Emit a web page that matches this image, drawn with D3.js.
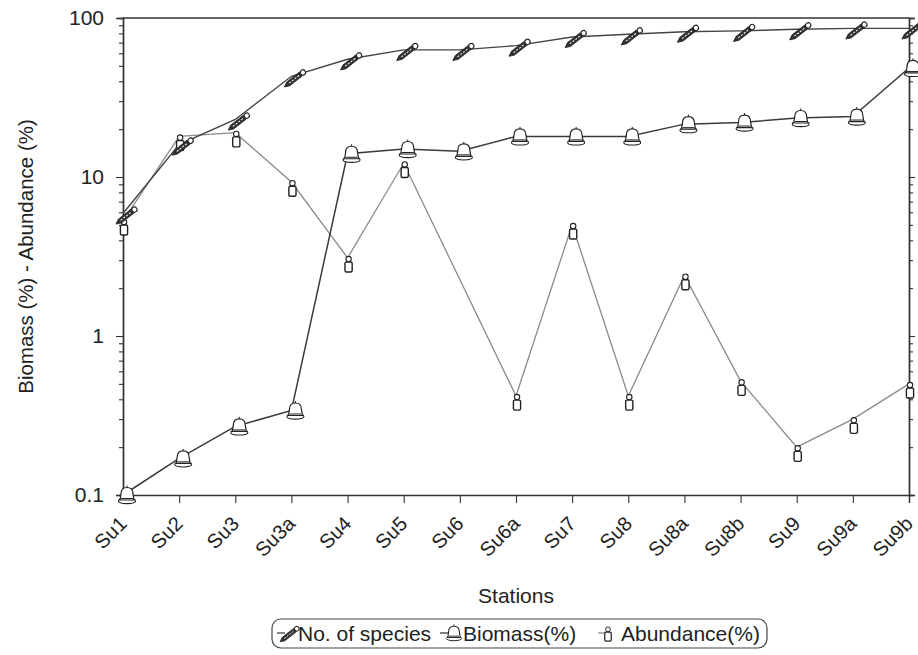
<!DOCTYPE html>
<html>
<head>
<meta charset="utf-8">
<script src="https://cdn.jsdelivr.net/npm/d3@7"></script>
<style>
    body { margin: 0; background: #fff; }
    text { font-family: "Liberation Sans", Arial, sans-serif; fill: #222; }
</style>
</head>
<body>
<div id="chart"></div>
<script>
const stations = ['Su1', 'Su2', 'Su3', 'Su3a', 'Su4', 'Su5', 'Su6', 'Su6a', 'Su7', 'Su8', 'Su8a', 'Su8b', 'Su9', 'Su9a', 'Su9b'];
const speciesPct = [5.9, 16, 23, 43, 55, 63, 63, 67, 76, 79, 82, 83, 85, 86, 86];
const biomassPct = [0.1, 0.17, 0.27, 0.34, 14, 15, 14.5, 18, 18, 18, 21.5, 22, 23.5, 24, 48.5];
const abundancePct = [5.3, 18, 19, 9.3, 3.1, 12.2, null, 0.42, 5.0, 0.42, 2.4, 0.52, 0.2, 0.3, 0.5];
const yTicks = [0.1, 1, 10, 100];

const width = 918, height = 655;
const margin = { top: 18, right: 9, bottom: 160, left: 123 };

const svg = d3.select('#chart').append('svg')
    .attr('width', width)
    .attr('height', height);

const x = d3.scalePoint()
    .domain(stations)
    .range([margin.left, width - margin.right]);

const y = d3.scaleLog()
    .domain([0.1, 100])
    .range([height - margin.bottom, margin.top]);

// minor ticks 2..9 for each decade
const minorTicks = [];
[0.1, 1, 10].forEach(d => { for (let k = 2; k <= 9; k++) minorTicks.push(d * k); });

const axisColor = '#333';

// top border
svg.append('line')
    .attr('x1', x.range()[0]).attr('x2', x.range()[1])
    .attr('y1', y(100)).attr('y2', y(100))
    .attr('stroke', axisColor).attr('stroke-width', 1.4);

// left axis: minor + major
svg.append('g')
    .attr('transform', `translate(${margin.left},0)`)
    .call(d3.axisLeft(y).tickValues(minorTicks).tickSize(4).tickFormat(''));
const leftMajor = svg.append('g')
    .attr('transform', `translate(${margin.left},0)`)
    .call(d3.axisLeft(y).tickValues(yTicks).tickSize(7).tickPadding(12)
        .tickFormat(d => d3.format('~g')(d)));
leftMajor.selectAll('text').style('font-size', '21px').attr('fill', '#222');

// right axis
svg.append('g')
    .attr('transform', `translate(${x.range()[1]},0)`)
    .call(d3.axisRight(y).tickValues(minorTicks).tickSize(4).tickFormat(''));
svg.append('g')
    .attr('transform', `translate(${x.range()[1]},0)`)
    .call(d3.axisRight(y).tickValues(yTicks).tickSize(6).tickFormat(''));

// bottom axis
svg.append('g')
    .attr('transform', `translate(0,${y(0.1)})`)
    .call(d3.axisBottom(x).tickSize(8).tickFormat(''));

svg.selectAll('.domain').attr('stroke', axisColor).attr('stroke-width', 1.4);
svg.selectAll('.tick line').attr('stroke', axisColor).attr('stroke-width', 1.1);

// rotated station labels
svg.selectAll('text.xlabel')
    .data(stations)
    .enter()
    .append('text')
    .attr('class', 'xlabel')
    .attr('transform', d => `translate(${x(d) + 5},${y(0.1) + 30}) rotate(-45)`)
    .style('text-anchor', 'end')
    .style('font-size', '20px')
    .text(d => d);

// axis titles
svg.append('text')
    .attr('transform', `translate(33,${(y(100) + y(0.1)) / 2}) rotate(-90)`)
    .style('text-anchor', 'middle')
    .style('font-size', '20.5px')
    .text('Biomass (%) - Abundance (%)');

svg.append('text')
    .attr('x', (x.range()[0] + x.range()[1]) / 2)
    .attr('y', 603)
    .style('text-anchor', 'middle')
    .style('font-size', '21px')
    .text('Stations');

// series data
const speciesData = stations.map((s, i) => ({ s, v: speciesPct[i] }));
const biomassData = stations.map((s, i) => ({ s, v: biomassPct[i] }));
const abundanceData = stations.map((s, i) => ({ s, v: abundancePct[i] })).filter(d => d.v != null);

const line = d3.line().x(d => x(d.s)).y(d => y(d.v));

svg.append('path').datum(abundanceData)
    .attr('d', line).attr('fill', 'none')
    .attr('stroke', '#8a8a8a').attr('stroke-width', 1.3);
svg.append('path').datum(biomassData)
    .attr('d', line).attr('fill', 'none')
    .attr('stroke', '#3a3a3a').attr('stroke-width', 1.5);
svg.append('path').datum(speciesData)
    .attr('d', line).attr('fill', 'none')
    .attr('stroke', '#444').attr('stroke-width', 1.4);

// marker drawers
const pencil = function (g) {
    const p = g.append('g').attr('transform', 'rotate(-38)');
    p.append('path')
        .attr('d', 'M-14,0 L-9,-2.4 L7,-2.4 L7,2.4 L-9,2.4 Z')
        .attr('fill', '#333').attr('stroke', '#222').attr('stroke-width', 0.8);
    p.append('line')
        .attr('x1', -8).attr('x2', 6).attr('y1', 0).attr('y2', 0)
        .attr('stroke', '#fff').attr('stroke-width', 1).attr('stroke-dasharray', '2,1.5');
    p.append('circle')
        .attr('cx', 9.5).attr('cy', 0).attr('r', 2.6)
        .attr('fill', '#fff').attr('stroke', '#222').attr('stroke-width', 1.1);
};

const bell = function (g) {
    g.append('ellipse')
        .attr('cx', 0).attr('cy', 6).attr('rx', 8.5).attr('ry', 2.6)
        .attr('fill', '#fff').attr('stroke', '#222').attr('stroke-width', 1.1);
    g.append('path')
        .attr('d', 'M-7,5 L-6,-1 Q-6,-7.5 0,-7.5 Q6,-7.5 6,-1 L7,5 Z')
        .attr('fill', '#fff').attr('stroke', '#222').attr('stroke-width', 1.2);
    g.append('line')
        .attr('x1', -6).attr('x2', 6).attr('y1', 3.5).attr('y2', 3.5)
        .attr('stroke', '#222').attr('stroke-width', 1);
    g.append('line')
        .attr('x1', 0).attr('x2', 0).attr('y1', -7.5).attr('y2', -9.5)
        .attr('stroke', '#222').attr('stroke-width', 1);
};

const weight = function (g) {
    g.append('circle')
        .attr('cx', 0).attr('cy', -1.8).attr('r', 2.7)
        .attr('fill', '#fff').attr('stroke', '#222').attr('stroke-width', 1.1);
    g.append('rect')
        .attr('x', -3.6).attr('y', 1.2).attr('width', 7.2).attr('height', 10).attr('rx', 1.5)
        .attr('fill', '#fff').attr('stroke', '#222').attr('stroke-width', 1.4);
};

svg.selectAll('g.abMarker')
    .data(abundanceData)
    .enter()
    .append('g')
    .attr('class', 'abMarker')
    .attr('transform', d => `translate(${x(d.s) + 1},${y(d.v) + 3})`)
    .each(function () { weight(d3.select(this)); });

svg.selectAll('g.bioMarker')
    .data(biomassData)
    .enter()
    .append('g')
    .attr('class', 'bioMarker')
    .attr('transform', d => `translate(${x(d.s) + 4},${y(d.v)})`)
    .each(function () { bell(d3.select(this)); });

svg.selectAll('g.spMarker')
    .data(speciesData)
    .enter()
    .append('g')
    .attr('class', 'spMarker')
    .attr('transform', d => `translate(${x(d.s) + 4},${y(d.v) + 2})`)
    .each(function () { pencil(d3.select(this)); });

// legend
const legend = svg.append('g');
legend.append('rect')
    .attr('x', 272).attr('y', 619).attr('width', 495).attr('height', 29).attr('rx', 9)
    .attr('fill', 'none').attr('stroke', '#444').attr('stroke-width', 1.2);

const legendItems = [
    { label: 'No. of species', x: 277, tx: 298, draw: pencil, dx: 13, dy: 1, color: '#444' },
    { label: 'Biomass(%)', x: 440, tx: 463, draw: bell, dx: 14, dy: 0, color: '#3a3a3a' },
    { label: 'Abundance(%)', x: 598, tx: 621, draw: weight, dx: 10, dy: -2, color: '#8a8a8a' }
];
legendItems.forEach(it => {
    legend.append('line')
        .attr('x1', it.x).attr('x2', it.x + 8)
        .attr('y1', 633).attr('y2', 633)
        .attr('stroke', it.color).attr('stroke-width', 1.3);
    const g = legend.append('g').attr('transform', `translate(${it.x + it.dx},${633 + it.dy}) scale(0.9)`);
    it.draw(g);
    legend.append('text').attr('x', it.tx).attr('y', 641)
        .style('font-size', '21px').text(it.label);
});
</script>
</body>
</html>
